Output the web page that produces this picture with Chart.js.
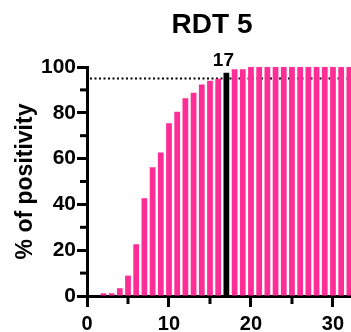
<!DOCTYPE html>
<html>
<head>
<meta charset="utf-8">
<script src="https://cdn.jsdelivr.net/npm/chart.js@4"></script>
<style>
    html, body { margin: 0; padding: 0; background: #fff; }
    #wrap { width: 351px; height: 332px; }
</style>
</head>
<body>
<div id="wrap"><canvas id="rdtChart" width="351" height="332"></canvas></div>
<script>
// days since symptom onset and cumulative % positive
const days = [1, 2, 3, 4, 5, 6, 7, 8, 9, 10, 11, 12, 13, 14, 15, 16, 17, 18, 19, 20,
    21, 22, 23, 24, 25, 26, 27, 28, 29, 30, 31, 32];
const positivity = [0, 1.2, 1.2, 3.4, 8.9, 22.6, 42.7, 56.2, 62.7, 75.4, 80.5, 86.3, 88.8, 92.4, 94, 94.9, 97.5, 99, 99, 100,
    100, 100, 100, 100, 100, 100, 100, 100, 100, 100, 100, 100];
const cutoffDay = 17;
const thresholdLine = 95;
const yTickLabels = [0, 20, 40, 60, 80, 100];
const xTickLabels = [0, 10, 20, 30];

const pink = '#ff2d95';
const fontFamily = '"Liberation Sans", Arial, Helvetica, sans-serif';

const extrasPlugin = {
    id: 'extras',
    beforeDatasetsDraw(chart) {
        const { ctx, chartArea, scales } = chart;
        const y = scales.y.getPixelForValue(thresholdLine);
        ctx.save();
        ctx.strokeStyle = '#000';
        ctx.lineWidth = 2;
        ctx.setLineDash([2, 2.5]);
        ctx.beginPath();
        ctx.moveTo(chartArea.left + 3, y);
        ctx.lineTo(chartArea.right, y);
        ctx.stroke();
        ctx.restore();
    },
    afterDraw(chart) {
        const { ctx, chartArea, scales } = chart;
        ctx.save();
        // minor ticks
        ctx.strokeStyle = '#000';
        ctx.lineWidth = 3;
        [10, 30, 50, 70, 90].forEach(v => {
            const py = scales.y.getPixelForValue(v);
            ctx.beginPath();
            ctx.moveTo(chartArea.left - 7, py);
            ctx.lineTo(chartArea.left, py);
            ctx.stroke();
        });
        [5, 15, 25].forEach(v => {
            const px = scales.x.getPixelForValue(v);
            ctx.beginPath();
            ctx.moveTo(px, chartArea.bottom);
            ctx.lineTo(px, chartArea.bottom + 8);
            ctx.stroke();
        });
        // title and cutoff label
        ctx.fillStyle = '#000';
        ctx.textAlign = 'center';
        ctx.textBaseline = 'middle';
        ctx.font = 'bold 28px ' + fontFamily;
        ctx.fillText('RDT 5', 212, 25);
        ctx.font = 'bold 19px ' + fontFamily;
        ctx.fillText(String(cutoffDay), scales.x.getPixelForValue(cutoffDay) - 3, 61);
        ctx.restore();
    }
};

new Chart(document.getElementById('rdtChart'), {
    type: 'bar',
    data: {
        labels: days,
        datasets: [{
            data: days.map((d, i) => ({ x: d, y: positivity[i] })),
            backgroundColor: days.map(d => d === cutoffDay ? '#000' : pink),
            borderWidth: 0,
            barPercentage: 0.78,
            categoryPercentage: 0.9
        }]
    },
    options: {
        responsive: false,
        animation: false,
        devicePixelRatio: 1,
        layout: { padding: { top: 67, right: 0, left: 0, bottom: 0 } },
        plugins: {
            legend: { display: false },
            tooltip: { enabled: false }
        },
        scales: {
            x: {
                type: 'linear',
                min: 0,
                max: 32.2,
                offset: false,
                grid: {
                    display: true,
                    offset: false,
                    drawOnChartArea: false,
                    tickLength: 11,
                    tickWidth: 3,
                    tickColor: ctx => xTickLabels.includes(ctx.tick && ctx.tick.value) ? '#000' : 'transparent'
                },
                border: { display: true, width: 3, color: '#000' },
                ticks: {
                    stepSize: 5,
                    includeBounds: false,
                    maxRotation: 0,
                    autoSkip: false,
                    padding: 5,
                    color: '#000',
                    font: { family: fontFamily, size: 20, weight: 'bold' },
                    callback: v => xTickLabels.includes(v) ? String(v) : ''
                },
                afterFit(scale) {
                    scale.height = 36;
                    scale.paddingLeft = 0;
                    scale.paddingRight = 0;
                }
            },
            y: {
                min: 0,
                max: 100,
                grid: {
                    display: true,
                    drawOnChartArea: false,
                    tickLength: 10,
                    tickWidth: 3,
                    tickColor: ctx => yTickLabels.includes(ctx.tick && ctx.tick.value) ? '#000' : 'transparent'
                },
                border: { display: true, width: 3, color: '#000' },
                ticks: {
                    stepSize: 10,
                    autoSkip: false,
                    padding: 1,
                    color: '#000',
                    font: { family: fontFamily, size: 21, weight: 'bold' },
                    callback: v => yTickLabels.includes(v) ? String(v) : ''
                },
                title: {
                    display: true,
                    text: '% of positivity',
                    color: '#000',
                    font: { family: fontFamily, size: 23, weight: 'bold' },
                    padding: { top: 12, bottom: 0 }
                },
                afterFit(scale) {
                    scale.width = 87;
                    scale.paddingTop = 0;
                    scale.paddingBottom = 0;
                }
            }
        }
    },
    plugins: [extrasPlugin]
});
</script>
</body>
</html>
